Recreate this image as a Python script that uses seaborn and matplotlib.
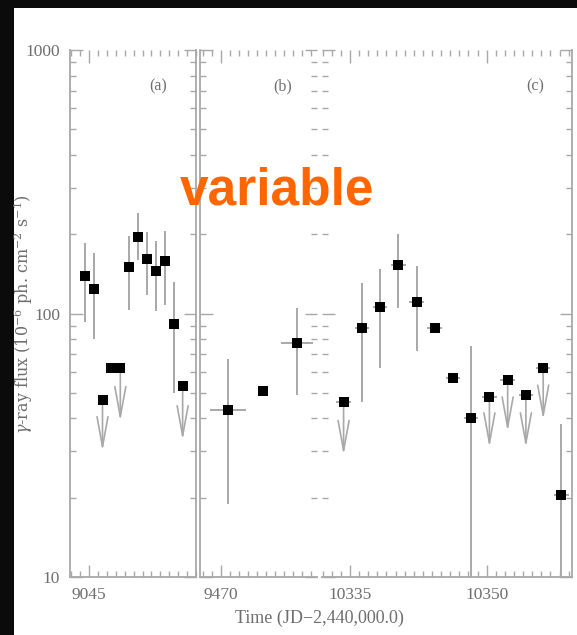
import numpy as np
import pandas as pd
import matplotlib
matplotlib.use("Agg")
import matplotlib.pyplot as plt
from matplotlib.patches import Rectangle
from matplotlib.ticker import FixedLocator, MultipleLocator, LogLocator, NullFormatter, FuncFormatter
import seaborn as sns

sns.set_theme(style="white")
plt.rcParams['font.family'] = ['Liberation Serif', 'DejaVu Serif']
plt.rcParams['mathtext.fontset'] = 'dejavuserif'

nan = np.nan

# ---- data (JD - 2,440,000 ; flux in 1e-6 ph cm^-2 s^-1) ----
a_time = [9044.5, 9045.5, 9046.5, 9047.5, 9048.5, 9049.5, 9050.5, 9051.5, 9052.5, 9053.5, 9054.5, 9055.5]
a_flux = [139, 124, 47, 62, 62, 150, 195, 161, 145, 158, 91, 53]
a_low = [93, 80, nan, nan, nan, 103, 160, 118, 102, 108, 50, nan]
a_high = [185, 169, nan, nan, nan, 197, 241, 204, 189, 206, 132, nan]
a_xerr = [0, 0, 0, 0, 0, 0, 0, 0, 0, 0, 0, 0]
a_limit = [0, 0, 1, 0, 1, 0, 0, 0, 0, 0, 0, 1]
a_limit_end = [nan, nan, 30, nan, 39, nan, nan, nan, nan, nan, nan, 33]

b_time = [9470.8, 9474.6, 9478.4]
b_flux = [43, 51, 77]
b_low = [19, nan, 49]
b_high = [67, nan, 105]
b_xerr = [2.0, 0, 1.8]
b_limit = [0, 0, 0]
b_limit_end = [nan, nan, nan]

c_time = [10334.3, 10336.3, 10338.3, 10340.3, 10342.3, 10344.3, 10346.3,
          10348.3, 10350.3, 10352.3, 10354.3, 10356.2, 10358.2]
c_flux = [46, 88, 106, 153, 111, 88, 57, 40, 48, 56, 49, 62, 20.5]
c_low = [nan, 46, 62, 105, 72, nan, nan, 9, nan, nan, nan, nan, 9]
c_high = [nan, 130, 148, 200, 151, nan, nan, 75, nan, nan, nan, nan, 38]
c_xerr = [0.8] * 13
c_limit = [1, 0, 0, 0, 0, 0, 0, 0, 1, 1, 1, 1, 0]
c_limit_end = [29, nan, nan, nan, nan, nan, nan, nan, 31, 35.6, 31, 39.5, nan]

panel_labels = ["(a)", "(b)", "(c)"]
x_ticks = [[9045], [9470], [10335, 10350]]
y_ticks = [10, 100, 1000]

W, H = 577, 635
GRAY = '#a8a8a8'
TXT = '#6e6e6e'

fig = plt.figure(figsize=(W / 100, H / 100), dpi=100, facecolor='#0b0b0b')
fig.add_artist(Rectangle((14 / W, 0), 1 - 14 / W, 1 - 8 / H, transform=fig.transFigure,
                         facecolor='white', edgecolor='none', zorder=-5))

bot = 1 - 577 / H
top = 1 - 50 / H
hgt = top - bot
axes_px = [(70, 196), (199.5, 317), (322, 572)]
xlims = [(9042.85, 9057.0), (9467.6, 9480.65), (10331.93, 10359.36)]
label_pos = [0.70, 0.71, 0.852]

datasets = [
    (a_time, a_flux, a_low, a_high, a_xerr, a_limit, a_limit_end),
    (b_time, b_flux, b_low, b_high, b_xerr, b_limit, b_limit_end),
    (c_time, c_flux, c_low, c_high, c_xerr, c_limit, c_limit_end),
]

for i, ((x0, x1), xl, ds) in enumerate(zip(axes_px, xlims, datasets)):
    t, f, lo, hi, xe, lim, lend = [np.asarray(v, dtype=float) for v in ds]
    ax = fig.add_axes([x0 / W, bot, (x1 - x0) / W, hgt])
    ax.set_facecolor('white')
    ax.set_yscale('log')
    ax.set_ylim(10, 1000)
    ax.set_xlim(*xl)

    df = pd.DataFrame({'time': t, 'flux': f})
    yerr_lo = np.where(np.isnan(lo), 0, f - lo)
    yerr_hi = np.where(np.isnan(hi), 0, hi - f)
    ax.errorbar(t, f, yerr=[yerr_lo, yerr_hi], xerr=xe, fmt='none',
                ecolor=GRAY, elinewidth=1.4, capsize=0, zorder=2)
    for tt, ff, ll, ee in zip(t, f, lim, lend):
        if ll:
            ax.annotate('', xy=(tt, ee), xytext=(tt, ff),
                        arrowprops=dict(arrowstyle='->,head_length=1.8,head_width=0.33',
                                        color=GRAY, lw=1.2, shrinkA=0, shrinkB=0),
                        zorder=2)
    sns.scatterplot(data=df, x='time', y='flux', marker='s', s=55, color='black',
                    edgecolor='black', linewidth=0, ax=ax, zorder=3, legend=False)
    ax.set_xlabel('')
    ax.set_ylabel('')

    ax.xaxis.set_major_locator(FixedLocator(x_ticks[i]))
    ax.xaxis.set_minor_locator(MultipleLocator(1))
    ax.yaxis.set_major_locator(FixedLocator(y_ticks))
    ax.yaxis.set_minor_locator(LogLocator(base=10, subs=np.arange(2, 10)))
    ax.yaxis.set_minor_formatter(NullFormatter())
    ax.yaxis.set_major_formatter(FuncFormatter(lambda v, _: f"{v:g}"))
    ax.xaxis.set_major_formatter(FuncFormatter(lambda v, _: f"{v:g}"))

    ax.tick_params(which='both', direction='in', top=True, bottom=True, left=True, right=True,
                   color=GRAY, width=1.0, labelcolor=TXT, labelsize=12.5)
    ax.tick_params(which='major', length=9, pad=7)
    ax.tick_params(which='minor', length=4.5)
    ax.tick_params(axis='y', labelleft=(i == 0), labelright=False)

    for s in ax.spines.values():
        s.set_color(GRAY)
        s.set_linewidth(1.3)
    ax.spines['top'].set_visible(False)
    if i == 1:
        ax.spines['right'].set_visible(False)
    if i == 2:
        ax.spines['left'].set_visible(False)

    ax.text(label_pos[i], 0.93, panel_labels[i], transform=ax.transAxes,
            ha='center', va='center', fontsize=11.5, color=TXT)

fig.text(319 / W, 1 - 618 / H, 'Time (JD\u22122,440,000.0)', ha='center', va='center',
         fontsize=13, color=TXT)
fig.text(23 / W, 1 - 314 / H,
         r'$\gamma$-ray flux (10$^{-6}$ ph. cm$^{-2}$ s$^{-1}$)',
         rotation=90, ha='center', va='center', fontsize=11.5, color=TXT,
         family=['DejaVu Serif'])

fig.text(276.5 / W, 1 - 204 / H, 'variable', ha='center', va='baseline',
         fontsize=37, fontweight='bold', color='#ff6600',
         family=['Liberation Sans', 'DejaVu Sans'])

fig.savefig('out.png', dpi=100, facecolor=fig.get_facecolor())
